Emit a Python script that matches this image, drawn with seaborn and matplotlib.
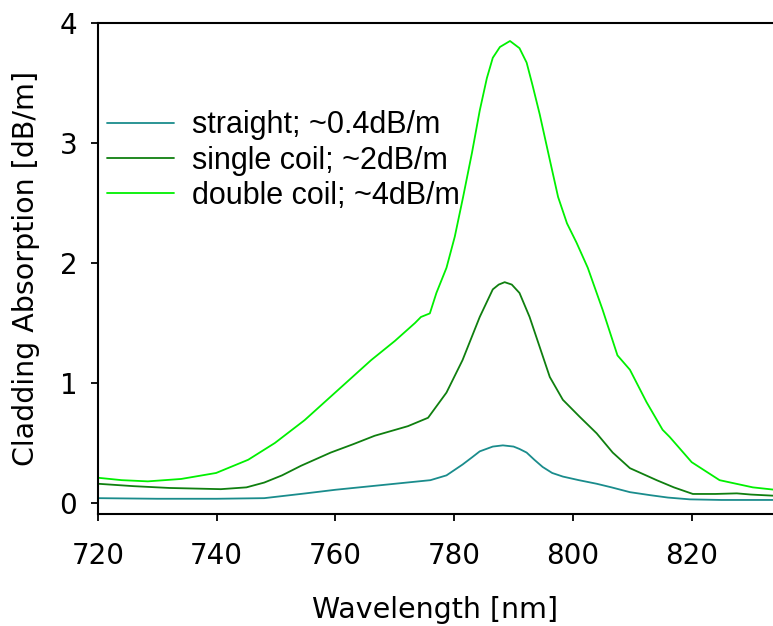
import matplotlib
matplotlib.use("Agg")
import matplotlib.pyplot as plt
import seaborn as sns
import pandas as pd

# Cladding absorption spectra (wavelength in nm, absorption in dB/m)
straight_wl = [720, 730, 740, 748, 755, 760, 765, 770, 774, 776, 778.7, 781.4,
               783, 784.3, 786.5, 788.2, 790, 791, 792.2, 793.5, 794.9, 796.5,
               798.3, 801, 804, 806.5, 809.6, 813, 816, 819.7, 825, 834]
straight_abs = [0.04, 0.035, 0.035, 0.04, 0.08, 0.11, 0.135, 0.16, 0.18, 0.19,
                0.23, 0.32, 0.38, 0.43, 0.47, 0.48, 0.47, 0.45, 0.42, 0.36,
                0.30, 0.25, 0.22, 0.19, 0.16, 0.13, 0.09, 0.065, 0.045, 0.03,
                0.025, 0.025]

single_wl = [720, 726, 732, 740.7, 745, 748, 751, 754.2, 759.2, 763, 766.6,
             772.2, 775.6, 778.7, 781.4, 784.3, 786.5, 787.5, 788.5, 789.7, 791,
             792.7, 794.4, 796.1, 798.3, 801.1, 804, 806.7, 809.6, 814.1, 817,
             820.2, 824, 827.6, 830, 834]
single_abs = [0.16, 0.14, 0.125, 0.115, 0.13, 0.17, 0.23, 0.31, 0.42, 0.49,
              0.56, 0.64, 0.71, 0.92, 1.19, 1.55, 1.78, 1.82, 1.84, 1.82, 1.75,
              1.55, 1.30, 1.05, 0.86, 0.72, 0.58, 0.42, 0.29, 0.19, 0.13,
              0.075, 0.075, 0.08, 0.07, 0.06]

double_wl = [720, 724, 728.4, 734, 739.9, 745.3, 749.8, 754.8, 760.4, 766, 770,
             773.4, 774.4, 775.9, 777, 778.7, 780.1, 781.5, 783, 784.3, 785.5,
             786.5, 787.7, 789.4, 791, 792.2, 793.2, 794.4, 796.1, 797.5, 799,
             800.6, 802.5, 805, 807.5, 809.6, 812.4, 815.1, 816.3, 820, 824.7,
             830.3, 834]
double_abs = [0.21, 0.19, 0.18, 0.20, 0.25, 0.36, 0.50, 0.69, 0.94, 1.19, 1.35,
              1.50, 1.55, 1.58, 1.75, 1.96, 2.22, 2.55, 2.92, 3.27, 3.54, 3.71,
              3.80, 3.85, 3.79, 3.67, 3.48, 3.24, 2.86, 2.55, 2.33, 2.17, 1.96,
              1.61, 1.23, 1.11, 0.84, 0.61, 0.55, 0.34, 0.19, 0.13, 0.11]

series_names = ["straight; ~0.4dB/m", "single coil; ~2dB/m", "double coil; ~4dB/m"]
series_colors = ["#1a8c8c", "#0f7f0f", "#00f000"]

x_ticks = [720, 740, 760, 780, 800, 820]
y_ticks = [0, 1, 2, 3, 4]

frames = []
for name, wl, ab in zip(series_names,
                        [straight_wl, single_wl, double_wl],
                        [straight_abs, single_abs, double_abs]):
    frames.append(pd.DataFrame({"wavelength": wl, "absorption": ab, "fiber": name}))
data = pd.concat(frames, ignore_index=True)

sns.set_style("ticks")
plt.rcParams["font.family"] = ["DejaVu Sans"]
plt.rcParams["text.color"] = "black"
plt.rcParams["axes.labelcolor"] = "black"

W, H = 773, 626
fig = plt.figure(figsize=(W / 100, H / 100), dpi=100)
ax = fig.add_axes([98 / W, 1 - 514 / H, (W - 98) / W, (514 - 23) / H])

sns.lineplot(data=data, x="wavelength", y="absorption", hue="fiber",
             hue_order=series_names, palette=series_colors, estimator=None,
             sort=False, linewidth=1.3, ax=ax)
for line in ax.get_lines():
    line.set_solid_joinstyle("round")

ax.set_xlim(720, 833.7)
ax.set_ylim(-0.092, 4.0)
ax.set_xticks(x_ticks)
ax.set_yticks(y_ticks)
ax.tick_params(axis="both", direction="out", length=5, width=1.3,
               labelsize=20, colors="black")
ax.tick_params(axis="x", pad=15.5)
ax.tick_params(axis="y", pad=10)
for side in ["left", "bottom", "top"]:
    ax.spines[side].set_visible(True)
    ax.spines[side].set_linewidth(1.5)
    ax.spines[side].set_color("black")
ax.spines["right"].set_visible(False)

ax.set_xlabel("Wavelength [nm]", fontsize=20.5, labelpad=18.5, color="black")
ax.set_ylabel("Cladding Absorption [dB/m]", fontsize=20.5, labelpad=14,
              color="black")

leg = ax.legend(loc="upper left", bbox_to_anchor=(0.013, 0.822), frameon=False,
                prop={"family": "Liberation Sans", "size": 22},
                handlelength=2.2, handletextpad=0.6, labelspacing=0.17,
                borderpad=0, borderaxespad=0)
for text in leg.get_texts():
    text.set_color("black")
for line in leg.get_lines():
    line.set_linewidth(1.3)

fig.savefig("out.png", dpi=100)
